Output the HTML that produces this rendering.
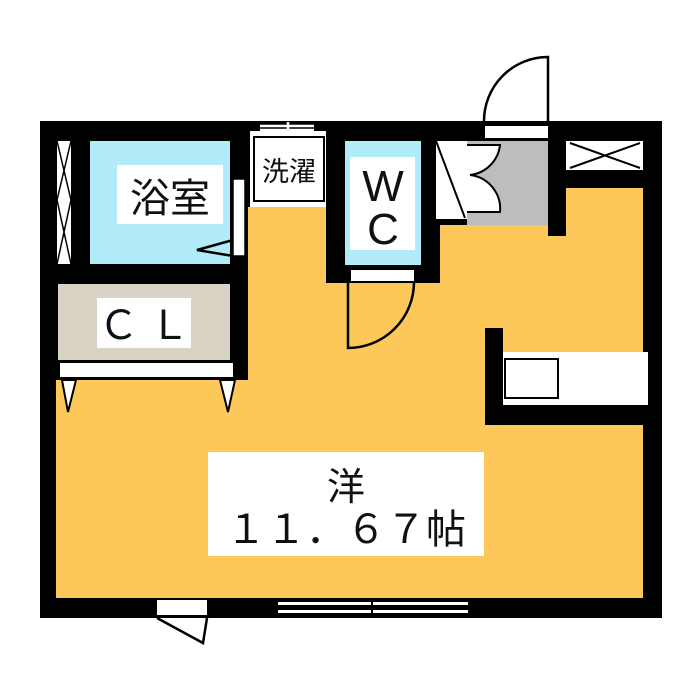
<!DOCTYPE html>
<html><head><meta charset="utf-8"><style>
html,body{margin:0;padding:0;background:#fff;width:700px;height:700px;overflow:hidden}
svg{display:block}
text{font-family:"Liberation Sans","Noto Sans CJK JP",sans-serif;fill:#111}
</style></head><body>
<svg width="700" height="700" viewBox="0 0 700 700" xmlns="http://www.w3.org/2000/svg">
<rect x="40" y="121" width="622" height="497" fill="#000"/>
<path d="M248 207 H326 V283 H440 V225 H548 V236 H566 V188 H643 V598 H56 V380 H248 Z" fill="#fcc85a"/>
<!-- kitchen walls -->
<rect x="485" y="328" width="18" height="97" fill="#000"/>
<rect x="485" y="405" width="177" height="20" fill="#000"/>
<rect x="503" y="352" width="145" height="53" fill="#fff"/>
<rect x="505" y="359" width="53" height="39" fill="#fff" stroke="#000" stroke-width="2"/>
<!-- bath -->
<rect x="90" y="141" width="140" height="123" fill="#b2ecf8"/>
<rect x="117" y="165" width="106" height="59" fill="#fff"/>
<text x="170" y="212" font-size="40" text-anchor="middle">浴室</text>
<rect x="233" y="179" width="12" height="77" fill="#fff" stroke="#000" stroke-width="1.5"/>
<path d="M233 240 L197 250 L233 256" fill="none" stroke="#000" stroke-width="2.5"/>
<!-- left window -->
<rect x="57" y="141" width="14" height="123" fill="#fff"/>
<path d="M57 141 L71 200 L57 264 M71 141 L57 200 L71 264" fill="none" stroke="#000" stroke-width="1.5"/>
<!-- CL -->
<rect x="58" y="284" width="172" height="76" fill="#d8d3c5"/>
<rect x="97" y="298" width="94" height="50" fill="#fff"/>
<text x="144" y="339" font-size="40" text-anchor="middle">Ｃ Ｌ</text>
<rect x="60" y="363" width="173" height="14" fill="#fff"/>
<path d="M62 380 L68 412 L76 380 Z M220 380 L228 412 L235 380 Z" fill="#fff" stroke="#000" stroke-width="2"/>
<!-- laundry -->
<rect x="250" y="131" width="76" height="76" fill="#fff"/>
<rect x="254" y="137" width="70" height="64" fill="#fff" stroke="#000" stroke-width="2"/>
<text x="289" y="181" font-size="27" text-anchor="middle">洗濯</text>
<path d="M260 126 H314 M260 130 H314 M288 122 V130" stroke="#fff" stroke-width="2.5"/>
<!-- WC -->
<rect x="345" y="141" width="76" height="124" fill="#b2ecf8"/>
<rect x="350" y="157" width="65" height="93" fill="#fff"/>
<text x="383" y="201" font-size="44" text-anchor="middle">W</text>
<text x="383" y="244" font-size="44" text-anchor="middle">C</text>
<rect x="351" y="270" width="63" height="11" fill="#fff"/>
<path d="M348 282 V348 A66 66 0 0 0 414 282" fill="none" stroke="#000" stroke-width="2.5"/>
<!-- entrance -->
<rect x="467" y="141" width="81" height="84" fill="#bdbdbd"/>
<rect x="436" y="141" width="31" height="78" fill="#fff"/>
<path d="M436 141 L465 218" stroke="#000" stroke-width="2"/>
<path d="M467 145 H500 A34 34 0 0 1 470 175 A34 34 0 0 1 500 212 H467" fill="#fff" stroke="#000" stroke-width="2"/>
<rect x="485" y="126" width="63" height="12" fill="#fff"/>
<path d="M548 121 V57 A64 64 0 0 0 484 121" fill="#fff" stroke="#000" stroke-width="2.5"/>
<!-- top-right window -->
<rect x="566" y="141" width="77" height="29" fill="#fff"/>
<path d="M570 143 L640 168 M570 168 L640 143" stroke="#000" stroke-width="2"/>
<!-- main label -->
<rect x="208" y="452" width="276" height="104" fill="#fff"/>
<text x="346" y="500" font-size="38" text-anchor="middle">洋</text>
<text x="346" y="543" font-size="40" text-anchor="middle">１１．６７帖</text>
<!-- bottom door -->
<rect x="157" y="600" width="50" height="15" fill="#fff"/>
<path d="M157 618 L203 643 L207 618" fill="#fff" stroke="#000" stroke-width="2.5"/>
<!-- bottom window -->
<rect x="278" y="602" width="190" height="3" fill="#fff"/>
<rect x="278" y="610" width="190" height="3" fill="#fff"/>
<path d="M372 598 V618" stroke="#000" stroke-width="2"/>
</svg>
</body></html>
